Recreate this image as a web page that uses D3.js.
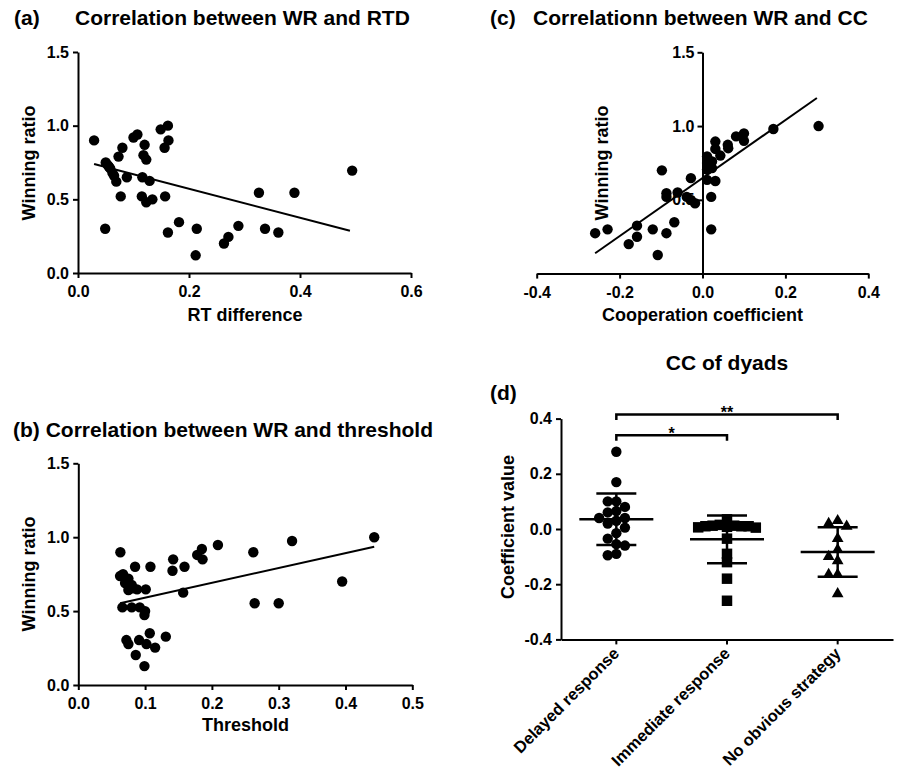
<!DOCTYPE html>
<html><head><meta charset="utf-8">
<script src="https://cdn.jsdelivr.net/npm/d3@7"></script>
<style>
body{margin:0;background:#fff}
svg text{font-family:"Liberation Sans",Arial,Helvetica,sans-serif;font-weight:bold;fill:#000}
</style></head><body>
<svg id="chart" width="898" height="773"></svg>
<script>
// ---------------- DATA ----------------
// (a) Winning ratio vs RT difference
const rtDifference = [0.029,0.049,0.050,0.054,0.058,0.062,0.056,0.065,0.069,0.073,0.080,0.088,0.077,0.100,0.107,0.120,0.118,0.123,0.116,0.129,0.115,0.123,0.134,0.149,0.162,0.163,0.156,0.157,0.162,0.182,0.214,0.212,0.263,0.271,0.289,0.326,0.337,0.361,0.390,0.494];
const wrByRTD     = [0.90,0.30,0.75,0.73,0.71,0.68,0.72,0.66,0.62,0.79,0.85,0.65,0.52,0.92,0.94,0.87,0.80,0.77,0.65,0.625,0.52,0.48,0.50,0.975,1.00,0.90,0.85,0.52,0.275,0.345,0.30,0.12,0.20,0.245,0.32,0.545,0.30,0.275,0.545,0.695];
const fitRTDx = [0.029,0.490];
const fitRTDy = [0.740,0.287];

// (b) Winning ratio vs threshold
const threshold   = [0.063,0.0625,0.067,0.070,0.075,0.075,0.085,0.082,0.080,0.088,0.101,0.108,0.066,0.080,0.092,0.100,0.099,0.072,0.075,0.091,0.107,0.102,0.115,0.131,0.086,0.099,0.142,0.141,0.159,0.157,0.178,0.185,0.186,0.209,0.262,0.264,0.300,0.320,0.395,0.443];
const wrByThresh  = [0.898,0.737,0.75,0.69,0.72,0.643,0.80,0.654,0.677,0.647,0.647,0.80,0.525,0.525,0.525,0.50,0.473,0.304,0.277,0.304,0.35,0.277,0.253,0.327,0.203,0.128,0.85,0.773,0.80,0.625,0.88,0.92,0.85,0.947,0.898,0.553,0.553,0.974,0.70,1.00];
const fitThrX = [0.0625,0.443];
const fitThrY = [0.553,0.936];

// (c) Winning ratio vs cooperation coefficient
const coopCoef = [-0.259,-0.229,-0.178,-0.158,-0.158,-0.120,-0.108,-0.087,-0.068,-0.098,-0.087,-0.087,-0.060,-0.038,-0.028,-0.018,-0.028,0.011,0.011,0.023,0.011,0.023,0.011,0.031,0.021,0.021,0.031,0.031,0.043,0.061,0.062,0.081,0.100,0.100,0.171,0.280];
const wrByCC   = [0.274,0.30,0.20,0.25,0.325,0.30,0.126,0.274,0.348,0.70,0.545,0.52,0.55,0.52,0.50,0.477,0.647,0.794,0.75,0.76,0.705,0.715,0.635,0.628,0.52,0.30,0.895,0.845,0.80,0.873,0.85,0.93,0.95,0.90,0.98,1.00];
const fitCCx = [-0.259,0.276];
const fitCCy = [0.138,1.19];

// (d) CC of dyads by strategy group
const categories = ["Delayed response","Immediate response","No obvious strategy"];
const delayedCC   = [0.28,0.17,0.10,0.08,0.10,0.065,0.06,0.04,0.03,0.04,0.02,0.005,-0.015,-0.035,-0.06,-0.055,-0.095,-0.09];
const immediateCC = [0.035,0.015,0.012,0.01,0.008,0.01,0.005,0.012,0.01,0.006,-0.035,-0.09,-0.12,-0.18,-0.26];
const noStrategyCC = [0.02,0.01,0.03,-0.035,-0.075,-0.10,-0.115,-0.165,-0.165,-0.235];
const comparisons = [
  {from:"Delayed response", to:"No obvious strategy", label:"**", top:0.415, foot:0.395},
  {from:"Delayed response", to:"Immediate response",  label:"*",  top:0.340, foot:0.320}
];

// tick labels
const ticksA_x = [0,0.2,0.4,0.6], ticksA_y = [0,0.5,1.0,1.5];
const ticksB_x = [0,0.1,0.2,0.3,0.4,0.5], ticksB_y = [0,0.5,1.0,1.5];
const ticksC_x = [-0.4,-0.2,0,0.2,0.4], ticksC_y = [0.5,1.0,1.5];
const ticksD_y = [-0.4,-0.2,0,0.2,0.4];

// ---------------- DRAW ----------------
const svg = d3.select("#chart");
const FONT = '"Liberation Sans", Arial, Helvetica, sans-serif';
const fmt = d => d.toFixed(1);

function axisStyle(g){
  g.attr("font-size",16).attr("font-family",FONT).attr("font-weight","bold");
  g.select(".domain").attr("stroke","#000").attr("stroke-width",2);
  g.selectAll(".tick line").attr("stroke","#000").attr("stroke-width",2);
  g.selectAll(".tick text").attr("fill","#000");
}
function txt(x,y,s,size,anchor,rot){
  const t = svg.append("text").attr("font-size",size).attr("text-anchor",anchor||"start").text(s);
  if(rot) t.attr("transform",`translate(${x},${y}) rotate(${rot})`);
  else t.attr("x",x).attr("y",y);
  return t;
}

function scatterPanel(p){
  const g = svg.append("g");
  g.append("g").attr("transform",`translate(0,${p.y(0)})`)
    .call(d3.axisBottom(p.x).tickValues(p.xTicks).tickFormat(fmt).tickSize(5).tickPadding(8).tickSizeOuter(0))
    .call(axisStyle);
  g.append("g").attr("transform",`translate(${p.x(p.yAxisAt)},0)`)
    .call(d3.axisLeft(p.y).tickValues(p.yTicks).tickFormat(fmt).tickSize(5).tickPadding(p.yPad).tickSizeOuter(0))
    .call(axisStyle);
  g.append("g").selectAll("circle").data(d3.zip(p.xs,p.ys)).join("circle")
    .attr("cx",d=>p.x(d[0])).attr("cy",d=>p.y(d[1])).attr("r",5.2).attr("fill","#000");
  g.append("line")
    .attr("x1",p.x(p.fx[0])).attr("y1",p.y(p.fy[0]))
    .attr("x2",p.x(p.fx[1])).attr("y2",p.y(p.fy[1]))
    .attr("stroke","#000").attr("stroke-width",2);
}

// (a)
scatterPanel({x:d3.scaleLinear([0,0.6],[78,411]), y:d3.scaleLinear([0,1.5],[273,52]),
  xs:rtDifference, ys:wrByRTD, fx:fitRTDx, fy:fitRTDy, xTicks:ticksA_x, yTicks:ticksA_y, yAxisAt:0, yPad:4});
txt(14,25,"(a)",21); txt(75,25,"Correlation between WR and RTD",21);
txt(245,321,"RT difference",18,"middle");
txt(35,163,"Winning ratio",18,"middle",-90);

// (b)
scatterPanel({x:d3.scaleLinear([0,0.5],[78.3,412.3]), y:d3.scaleLinear([0,1.5],[685,463.3]),
  xs:threshold, ys:wrByThresh, fx:fitThrX, fy:fitThrY, xTicks:ticksB_x, yTicks:ticksB_y, yAxisAt:0, yPad:4});
txt(13,437,"(b) Correlation between WR and threshold",21);
txt(245.5,731,"Threshold",18,"middle");
txt(35,574,"Winning ratio",18,"middle",-90);

// (c)
scatterPanel({x:d3.scaleLinear([-0.4,0.4],[536.7,868.3]), y:d3.scaleLinear([0,1.5],[273.6,52.3]),
  xs:coopCoef, ys:wrByCC, fx:fitCCx, fy:fitCCy, xTicks:ticksC_x, yTicks:ticksC_y, yAxisAt:0, yPad:3});
txt(490,25,"(c)",21); txt(533,25,"Correlationn between WR and CC",21);
txt(702.5,321,"Cooperation coefficient",18,"middle");
txt(608,163,"Winning ratio",18,"middle",-90);

// (d)
(function(){
  const x = d3.scaleBand(categories,[561,893]);
  const y = d3.scaleLinear([-0.4,0.4],[639.4,418.6]);
  const g = svg.append("g");
  const xa = g.append("g").attr("transform",`translate(0,${y(-0.4)})`)
    .call(d3.axisBottom(x).tickSize(5).tickSizeOuter(0)).call(axisStyle);
  xa.selectAll(".tick text").remove();
  g.append("g").attr("transform",`translate(561,0)`)
    .call(d3.axisLeft(y).tickValues(ticksD_y).tickFormat(fmt).tickSize(5).tickPadding(4).tickSizeOuter(0))
    .call(axisStyle);
  categories.forEach(c=>{
    const cx = x(c)+x.bandwidth()/2;
    txt(cx+4, y(-0.4)+15, c, 16.5, "end", -45);
  });

  const groups = [delayedCC, immediateCC, noStrategyCC];
  const shapes = [d3.symbolCircle, d3.symbolSquare, d3.symbolTriangle];
  const sizes = [85, 110, 60];
  const steps = [8.6, 7.2, 9];

  function beeswarm(vals, cx, step){
    const pts = vals.map(v=>({v, y:y(v)})).sort((a,b)=>b.v-a.v);
    const placed = [];
    for(const p of pts){
      let off = 0;
      for(let n=0;n<40;n++){
        off = n===0 ? 0 : (n%2 ? -1 : 1)*Math.ceil(n/2)*step;
        if(!placed.some(q=>Math.hypot(q.x-(cx+off), q.y-p.y) < step*0.999)) break;
      }
      p.x = cx+off; placed.push(p);
    }
    return placed;
  }

  groups.forEach((vals,i)=>{
    const cx = x(categories[i])+x.bandwidth()/2;
    const pts = beeswarm(vals, cx, steps[i]);
    g.append("g").selectAll("path").data(pts).join("path")
      .attr("d", d3.symbol(shapes[i], sizes[i])())
      .attr("transform", d=>`translate(${d.x},${d.y})`)
      .attr("fill","#000");
    const m = d3.mean(vals), sd = d3.deviation(vals);
    const lines = [
      [cx, y(m-sd), cx, y(m+sd)],
      [cx-37, y(m), cx+37, y(m)],
      [cx-20, y(m+sd), cx+20, y(m+sd)],
      [cx-20, y(m-sd), cx+20, y(m-sd)]
    ];
    g.append("g").selectAll("line").data(lines).join("line")
      .attr("x1",d=>d[0]).attr("y1",d=>d[1]).attr("x2",d=>d[2]).attr("y2",d=>d[3])
      .attr("stroke","#000").attr("stroke-width",2.5);
  });

  comparisons.forEach(cmp=>{
    const x1 = x(cmp.from)+x.bandwidth()/2, x2 = x(cmp.to)+x.bandwidth()/2;
    g.append("path")
      .attr("d",`M${x1},${y(cmp.foot)}V${y(cmp.top)}H${x2}V${y(cmp.foot)}`)
      .attr("fill","none").attr("stroke","#000").attr("stroke-width",2.5);
    svg.append("text").attr("x",(x1+x2)/2).attr("y",y(cmp.top)+4)
      .attr("font-size",16).attr("text-anchor","middle").attr("fill","#333").text(cmp.label);
  });

  txt(727,370,"CC of dyads",21,"middle");
  txt(490,400,"(d)",21);
  txt(514,527,"Coefficient value",18,"middle",-90);
})();
</script>
</body></html>
